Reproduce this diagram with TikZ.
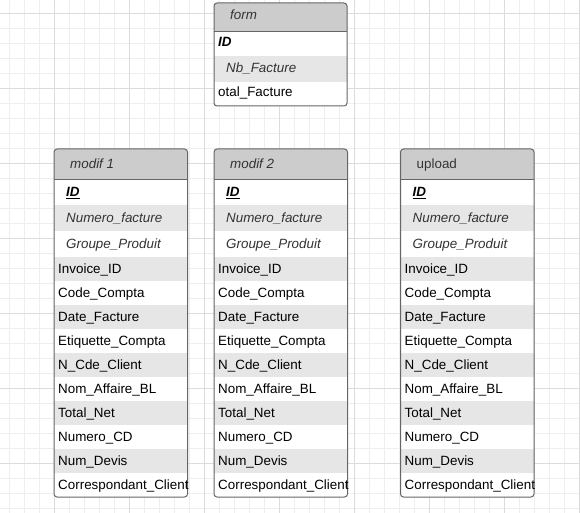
\documentclass[tikz,border=0pt]{standalone}
\usepackage{fontspec}
\setmainfont{Liberation Sans}
\newcommand\tblfont{\fontsize{13.4}{16}\selectfont}
\definecolor{tblline}{RGB}{102,102,102}
\definecolor{tblhead}{RGB}{204,204,204}
\definecolor{tblband}{RGB}{230,230,230}
\definecolor{gridmin}{RGB}{238,238,238}
\definecolor{gridmaj}{RGB}{220,220,220}
\definecolor{itgray}{RGB}{51,51,51}

\begin{document}
\begin{tikzpicture}[x=1pt,y=-1pt,
    every node/.style={inner sep=0pt,anchor=base west,font=\tblfont},
    frame/.style={draw=tblline,line width=1pt,rounded corners=3pt},
    head/.style={fill=tblhead},
    band/.style={fill=tblband},
    title/.style={text=itgray,font=\tblfont\itshape},
    uptitle/.style={text=itgray,font=\tblfont},
    fld/.style={text=black},
    ifld/.style={text=itgray,font=\tblfont\itshape},
    key/.style={text=black,font=\tblfont\bfseries\itshape}]
    \useasboundingbox[fill=white] (0,0) rectangle (580,513);
    % grid
    \foreach \i in {0,...,38}
      \draw[gridmin,line width=0.8pt] ({9.3+15*\i},0) -- ++(0,513);
    \foreach \j in {0,...,33}
      \draw[gridmin,line width=0.8pt] (0,{13.3+15*\j}) -- ++(580,0);
    \foreach \i in {0,...,7}
      \draw[gridmaj,line width=0.8pt] ({54.3+75*\i},0) -- ++(0,513);
    \foreach \j in {0,...,6}
      \draw[gridmaj,line width=0.8pt] (0,{13.3+75*\j}) -- ++(580,0);
    % form
    \fill[white] (214,3) rectangle (347,106);
    \fill[head,rounded corners=3pt] (214,3) rectangle (347,32);
    \fill[head] (214,20) rectangle (347,32);
    \fill[band] (214,56) rectangle (347,82);
    \draw[tblline,line width=1pt] (214,32) -- (347,32);
    \draw[frame] (214,3) rectangle (347,106);
    \node[title] (fm-title) at (230,20) {form};
    \node[key] (fm-id) at (218,47) {ID};
    \node[ifld] (fm-nb) at (226,72.3) {Nb\_Facture};
    \node[fld] (fm-total) at (218,96.7) {otal\_Facture};
    % modif 1, modif 2, upload
    \foreach \x/\tb/\ttl/\tst in {54/m1/modif 1/title,214/m2/modif 2/title,400.5/up/upload/uptitle}{
      \fill[white] (\x,149) rectangle ({\x+133.5},497);
      \fill[head,rounded corners=3pt] (\x,149) rectangle ({\x+133.5},179);
      \fill[head] (\x,165) rectangle ({\x+133.5},179);
      \foreach \ya/\yb in {205/231,257/281,305/329,353/377,401/425,449/473}
        \fill[band] (\x,\ya) rectangle ({\x+133.5},\yb);
      \draw[tblline,line width=1pt] (\x,179) -- ({\x+133.5},179);
      \draw[frame] (\x,149) rectangle ({\x+133.5},497);
      \node[\tst] (\tb-title) at ({\x+16},168.5) {\ttl};
      \node[key] (\tb-id) at ({\x+12},196.5) {\underline{ID}};
      \node[ifld] (\tb-numfac) at ({\x+12},222.5) {Numero\_facture};
      \node[ifld] (\tb-groupe) at ({\x+12},248.5) {Groupe\_Produit};
      \foreach \y/\nm/\txt in {273.5/invoice/Invoice\_ID,297.5/code/Code\_Compta,
          321.5/date/Date\_Facture,345.5/etiq/Etiquette\_Compta,
          369.5/ncde/N\_Cde\_Client,393.5/nom/Nom\_Affaire\_BL,
          417.5/total/Total\_Net,441.5/numcd/Numero\_CD,
          465.5/devis/Num\_Devis,489.5/corr/Correspondant\_Client}
        \node[fld] (\tb-\nm) at ({\x+4},\y) {\txt};
    }
  \end{tikzpicture}
\end{document}
